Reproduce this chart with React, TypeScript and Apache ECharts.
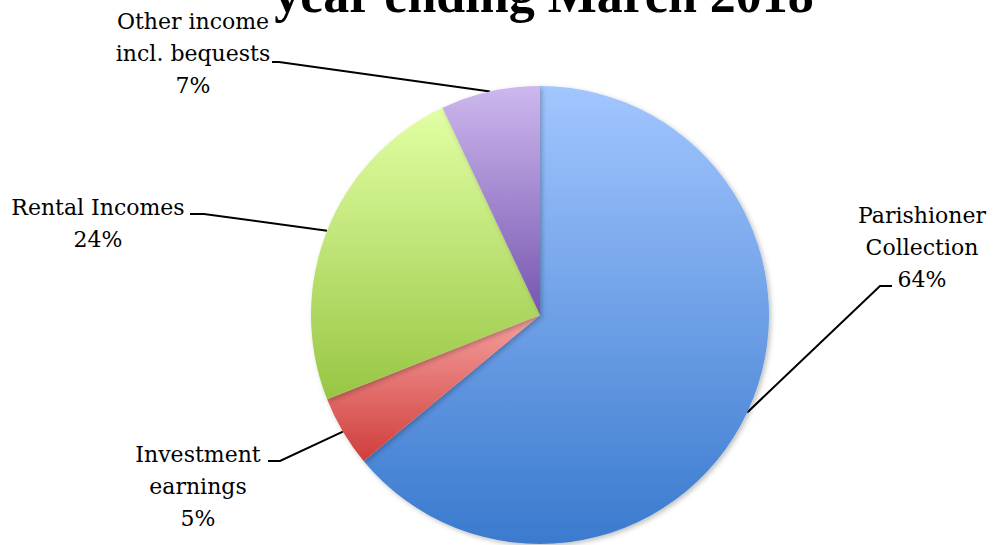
import React, { useEffect, useRef } from "react";
import * as echarts from "echarts";

const categories = [
  "Parishioner\nCollection",
  "Investment\nearnings",
  "Rental Incomes",
  "Other income\nincl. bequests",
];
const values = [64, 5, 24, 7];
const titleText = "year ending March 2018";

const gradients = [
  ["#A2C6FF", "#3A7ACE"],
  ["#F6A09E", "#CF3E3B"],
  ["#E2FFA4", "#98C644"],
  ["#CDB8EE", "#7655B0"],
];

// label centre and leader-line elbow/end points (layout only)
const labelLayouts = [
  { x: 922, y: 247, elbow: [880, 286], end: [892, 286] },
  { x: 198, y: 486, elbow: [280, 461], end: [268, 461] },
  { x: 98, y: 223, elbow: [204, 214], end: [190, 214] },
  { x: 193, y: 53, elbow: [279, 62], end: [272, 62] },
];

export default function App() {
  const ref = useRef<HTMLDivElement>(null);
  useEffect(() => {
    if (!ref.current) return;
    const chart = echarts.init(ref.current, undefined, { renderer: "svg" });
    const grad = (c: string[]) =>
      new echarts.graphic.LinearGradient(0, 0, 0, 1, [
        { offset: 0, color: c[0] },
        { offset: 1, color: c[1] },
      ]);
    chart.setOption({
      animation: false,
      backgroundColor: "#ffffff",
      title: {
        text: titleText,
        left: 539,
        textAlign: "center",
        top: -37,
        textStyle: {
          fontFamily: "Liberation Serif",
          fontWeight: "bold",
          fontSize: 52,
          color: "#000",
        },
      },
      series: [
        {
          type: "pie",
          center: [540, 315],
          radius: 229,
          startAngle: 90,
          clockwise: true,
          percentPrecision: 0,
          data: categories.map((name, i) => ({
            name,
            value: values[i],
            itemStyle: { color: grad(gradients[i]) },
          })),
          itemStyle: {
            shadowBlur: 5,
            shadowColor: "rgba(0,0,0,0.25)",
            shadowOffsetX: 2,
            shadowOffsetY: 2,
          },
          label: {
            show: true,
            position: "outside",
            formatter: "{b}\n{d}%",
            fontFamily: "DejaVu Serif",
            fontSize: 22,
            lineHeight: 32,
            color: "#000",
            align: "center",
          },
          labelLine: {
            show: true,
            lineStyle: { color: "#000", width: 2 },
          },
          labelLayout: (params: any) => {
            const l = labelLayouts[params.dataIndex];
            const start = params.labelLinePoints
              ? params.labelLinePoints[0]
              : l.elbow;
            return {
              x: l.x,
              y: l.y,
              align: "center",
              verticalAlign: "middle",
              labelLinePoints: [start, l.elbow, l.end],
            };
          },
        },
      ],
    });
    return () => chart.dispose();
  }, []);
  return (
    <div
      ref={ref}
      style={{ position: "fixed", left: 0, top: 0, width: 994, height: 545 }}
    />
  );
}
